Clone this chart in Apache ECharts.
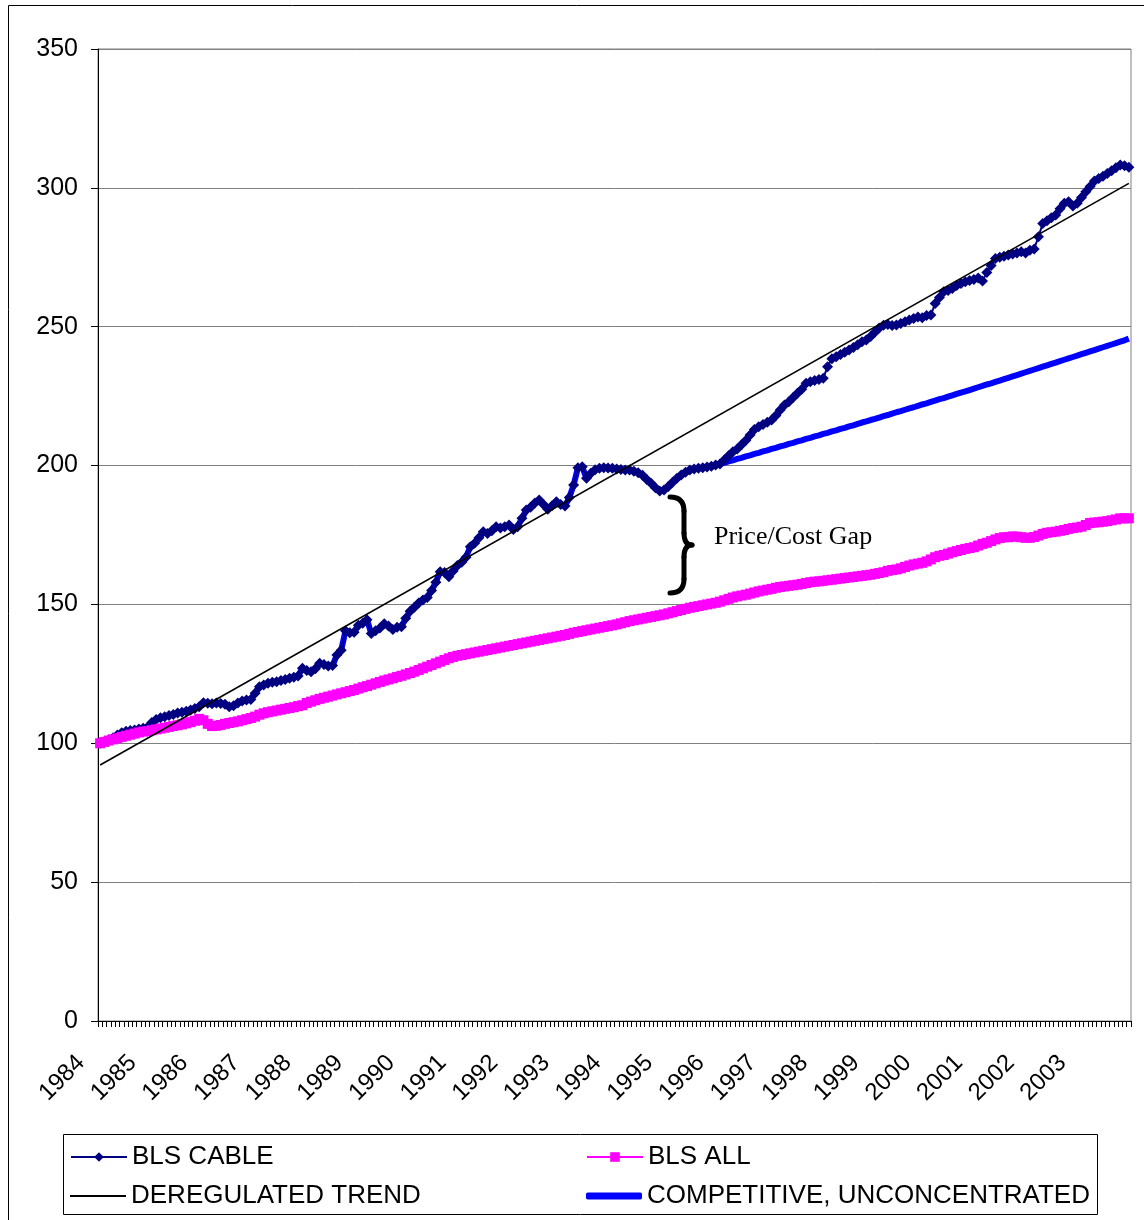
<!DOCTYPE html>
<html>
<head>
<meta charset="utf-8">
<script src="https://cdn.jsdelivr.net/npm/echarts@6/dist/echarts.min.js"></script>
<style>
  html, body { margin: 0; padding: 0; background: #fff; }
  #chart { width: 1144px; height: 1220px; }
</style>
</head>
<body>
<div id="chart"></div>
<script>
// tick labels: one per year, 12 monthly categories each
var years = [1984, 1985, 1986, 1987, 1988, 1989, 1990, 1991, 1992, 1993,
  1994, 1995, 1996, 1997, 1998, 1999, 2000, 2001, 2002, 2003]

// BLS CABLE, monthly
var blsCable = [
  100, 100.6, 101.3, 102, 103, 103.8, 104.3, 104.6, 104.8, 105.1, 105.4, 105.8,
  107.5, 108.6, 109.2, 109.6, 110, 110.4, 110.9, 111.2, 111.5, 112, 112.5, 113.2,
  114.6, 114.4, 114.2, 114.5, 114.3, 114.1, 113.2, 113.5, 114.5, 115.2, 115.6, 115.8,
  118, 120.4, 121, 121.6, 122, 122.2, 122.6, 123, 123.4, 123.8, 124.2, 127,
  126.2, 125.8, 126.8, 128.8, 128.4, 127.8, 128, 131.8, 133.5, 140.5, 139.8, 140,
  142.5, 143.2, 144.5, 139.5, 140.5, 141.5, 143, 142.2, 141, 141.8, 142, 145,
  147.5, 149, 150.5, 151.6, 152.5, 155, 158, 161.8, 161.5, 160, 162, 164,
  165.2, 167, 170.8, 172, 174, 176.2, 175.5, 176.5, 178, 177.5, 178, 178.6,
  177, 178, 181, 184, 185, 186.5, 187.6, 186, 184.3, 185.5, 187, 186,
  185.4, 188.5, 193, 199.2, 199.6, 195.4, 197.2, 198.5, 199, 199.2, 199.1, 199,
  198.8, 198.6, 198.4, 198.4, 198, 197.4, 196.5, 195, 193.6, 192, 190.8, 191.2,
  192.5, 194, 195.4, 196.6, 197.6, 198.4, 198.8, 199, 199.2, 199.5, 199.8, 200.2,
  200.6, 202, 203.5, 205, 206, 207.5, 209, 211, 213, 214, 214.8, 215.6,
  216.4, 218, 220, 221.8, 223, 224.5, 226, 227.5, 229.6, 230.2, 230.6, 231,
  231.4, 235.6, 238.5, 239.2, 240, 240.8, 241.6, 242.5, 243.5, 244.6, 245.2, 246.5,
  248, 249.5, 250.5, 250.8, 250.4, 250.6, 251.2, 251.8, 252.4, 253, 253.5, 253.2,
  254, 254.2, 258.4, 260.5, 262.6, 263, 263.8, 264.8, 265.6, 266.2, 266.6, 267,
  267.5, 266.5, 269.5, 272, 274.6, 275, 275.4, 275.8, 276.2, 276.5, 277, 276.5,
  277.5, 278, 282.4, 287.2, 288.2, 289.2, 290.2, 292.5, 294.5, 295, 293.5, 294.5,
  296.5, 298.6, 300.5, 302.5, 303.4, 304.2, 305.2, 306.2, 307.2, 308.2, 308, 307.4
]

// BLS ALL, monthly
var blsAll = [
  100, 100.5, 101, 101.4, 101.8, 102.3, 102.7, 103.1, 103.5, 103.9, 104.2, 104.4,
  104.7, 105, 105.3, 105.6, 105.9, 106.2, 106.5, 106.8, 107.2, 107.6, 108.1, 108.8,
  108.3, 107, 106.2, 106.3, 106.6, 107, 107.3, 107.6, 107.9, 108.3, 108.7, 109.1,
  109.6, 110.3, 110.8, 111.2, 111.5, 111.8, 112.1, 112.4, 112.7, 113, 113.4, 113.7,
  114.5, 115, 115.5, 116, 116.4, 116.8, 117.2, 117.6, 118, 118.4, 118.8, 119.2,
  119.7, 120.2, 120.6, 121.1, 121.6, 122.1, 122.6, 123, 123.4, 123.9, 124.3, 124.8,
  125.3, 125.8, 126.4, 127, 127.6, 128.2, 128.8, 129.4, 130, 130.6, 131.1, 131.5,
  131.8, 132.1, 132.4, 132.7, 133, 133.3, 133.6, 133.9, 134.2, 134.5, 134.8, 135.1,
  135.4, 135.7, 136, 136.3, 136.6, 136.9, 137.2, 137.5, 137.8, 138.1, 138.4, 138.7,
  139, 139.4, 139.8, 140.1, 140.4, 140.7, 141, 141.3, 141.6, 141.9, 142.2, 142.5,
  142.8, 143.2, 143.6, 144, 144.3, 144.6, 144.9, 145.2, 145.5, 145.8, 146.1, 146.4,
  146.8, 147.2, 147.6, 148, 148.4, 148.8, 149.1, 149.4, 149.7, 150, 150.3, 150.6,
  151, 151.5, 152, 152.5, 152.9, 153.2, 153.5, 153.9, 154.3, 154.7, 155, 155.3,
  155.6, 156, 156.3, 156.5, 156.7, 156.9, 157.1, 157.4, 157.7, 158, 158.2, 158.3,
  158.5, 158.7, 158.9, 159.1, 159.3, 159.5, 159.7, 159.9, 160.1, 160.3, 160.5, 160.7,
  161, 161.3, 161.6, 162.1, 162.4, 162.6, 163, 163.5, 164, 164.4, 164.7, 165,
  165.5, 166.2, 167, 167.5, 167.8, 168.3, 168.8, 169.2, 169.6, 170, 170.3, 170.6,
  171.2, 171.8, 172.2, 172.8, 173.4, 173.9, 174.2, 174.2, 174.5, 174.4, 174.2, 174,
  174, 174.3, 174.8, 175.4, 175.8, 176, 176.2, 176.5, 176.8, 177.2, 177.5, 177.7,
  178, 178.6, 179.3, 179.5, 179.6, 179.8, 180, 180.3, 180.6, 181, 181, 181
]

// COMPETITIVE, UNCONCENTRATED follows cable until early 1996, then its own path
var splitIndex = 145
var competitiveAfter = [
  201.0, 201.5, 201.9, 202.4, 202.8, 203.3, 203.7, 204.2, 204.6, 205.1, 205.5,
  206.0, 206.4, 206.9, 207.3, 207.8, 208.2, 208.7, 209.1, 209.6, 210.0, 210.5, 210.9,
  211.4, 211.8, 212.3, 212.7, 213.2, 213.6, 214.1, 214.5, 215.0, 215.5, 215.9, 216.4,
  216.8, 217.3, 217.8, 218.2, 218.7, 219.2, 219.6, 220.1, 220.6, 221.0, 221.5, 222.0,
  222.4, 222.9, 223.4, 223.9, 224.3, 224.8, 225.3, 225.8, 226.3, 226.7, 227.2, 227.7,
  228.2, 228.7, 229.2, 229.6, 230.1, 230.6, 231.1, 231.6, 232.1, 232.6, 233.1, 233.6,
  234.1, 234.6, 235.1, 235.6, 236.1, 236.6, 237.1, 237.6, 238.1, 238.6, 239.1, 239.6,
  240.1, 240.6, 241.1, 241.6, 242.1, 242.6, 243.1, 243.6, 244.1, 244.6, 245.1, 245.7
]

// DEREGULATED TREND: straight line, first and last month
var trendEnds = [92.2, 301.6]

var months = []
years.forEach(function (y) {
  for (var m = 1; m <= 12; m++) months.push(y + '-' + m)
})
var competitive = blsCable.slice(0, splitIndex).concat(competitiveAfter)
var trend = months.map(function () { return null })
trend[0] = trendEnds[0]
trend[trend.length - 1] = trendEnds[1]

var FONT = '"Liberation Sans", Arial, sans-serif'
var legendText = { fontSize: 26, color: '#000', fontFamily: FONT }
var braceStyle = { stroke: '#000', lineWidth: 5, fill: null, lineCap: 'round' }

function brace (x1, y1, cx, cy, x2, y2) {
  return {
    type: 'bezierCurve', silent: true,
    shape: { x1: x1, y1: y1, cpx1: cx, cpy1: cy, x2: x2, y2: y2 },
    style: braceStyle
  }
}
function braceLine (x1, y1, x2, y2) {
  return {
    type: 'line', silent: true,
    shape: { x1: x1, y1: y1, x2: x2, y2: y2 },
    style: braceStyle
  }
}
function legendAt (name, left, top, extra) {
  var l = { data: [name], left: left, top: top, itemWidth: 56, itemHeight: 12, padding: 0, textStyle: legendText }
  return Object.assign(l, extra || {})
}

var myChart = echarts.init(document.getElementById('chart'), null, { renderer: 'canvas' })
var option = {
  animation: false,
  backgroundColor: '#fff',
  grid: {
    left: 98, right: 13, top: 49, bottom: 199,
    show: true, borderColor: '#808080', borderWidth: 1
  },
  xAxis: {
    type: 'category',
    data: months,
    boundaryGap: true,
    axisLine: { lineStyle: { color: '#000', width: 1 } },
    axisTick: { show: true, interval: 0, length: 6, lineStyle: { color: '#000' } },
    axisLabel: {
      interval: 11,
      rotate: 45,
      margin: 19,
      padding: [0, 27, 0, 0],
      fontSize: 24,
      color: '#000',
      fontFamily: FONT,
      formatter: function (v) { return v.split('-')[0] }
    },
    splitLine: { show: false }
  },
  yAxis: {
    type: 'value',
    min: 0, max: 350, interval: 50,
    axisLine: { show: true, lineStyle: { color: '#000', width: 1 } },
    axisTick: { show: true, length: 7, lineStyle: { color: '#000' } },
    axisLabel: { margin: 20, fontSize: 25, color: '#000', fontFamily: FONT },
    splitLine: { show: true, lineStyle: { color: '#808080', width: 1 } }
  },
  legend: [
    legendAt('BLS CABLE', 70, 1144),
    legendAt('BLS ALL', 586, 1144),
    legendAt('DEREGULATED TREND', 70, 1183, { icon: 'rect', itemHeight: 2 }),
    legendAt('COMPETITIVE, UNCONCENTRATED', 586, 1183, { icon: 'roundRect', itemHeight: 7 })
  ],
  series: [
    {
      name: 'COMPETITIVE, UNCONCENTRATED',
      type: 'line',
      data: competitive,
      symbol: 'none',
      z: 2,
      lineStyle: { color: '#0000ff', width: 6 },
      itemStyle: { color: '#0000ff' }
    },
    {
      name: 'BLS CABLE',
      type: 'line',
      data: blsCable,
      symbol: 'diamond',
      symbolSize: 11,
      showAllSymbol: true,
      z: 3,
      lineStyle: { color: '#000080', width: 2 },
      itemStyle: { color: '#000080' }
    },
    {
      name: 'BLS ALL',
      type: 'line',
      data: blsAll,
      symbol: 'rect',
      symbolSize: 10,
      showAllSymbol: true,
      z: 3,
      lineStyle: { color: '#ff00ff', width: 2 },
      itemStyle: { color: '#ff00ff' }
    },
    {
      name: 'DEREGULATED TREND',
      type: 'line',
      data: trend,
      connectNulls: true,
      symbol: 'none',
      z: 4,
      lineStyle: { color: '#000', width: 1.6 },
      itemStyle: { color: '#000' }
    }
  ],
  graphic: [
    {
      type: 'rect', silent: true,
      shape: { x: 8.5, y: 5.5, width: 1300, height: 1400 },
      style: { fill: null, stroke: '#000', lineWidth: 1 }
    },
    {
      type: 'rect', silent: true,
      shape: { x: 63.5, y: 1134.5, width: 1034, height: 80 },
      style: { fill: null, stroke: '#000', lineWidth: 1 }
    },
    brace(670, 497, 684, 497, 684, 511),
    braceLine(684, 511, 684, 533),
    brace(684, 533, 684, 545, 692, 545),
    brace(692, 545, 684, 545, 684, 557),
    braceLine(684, 557, 684, 579),
    brace(684, 579, 684, 593, 670, 593),
    {
      type: 'text', silent: true,
      style: {
        text: 'Price/Cost Gap', x: 714, y: 537,
        verticalAlign: 'middle',
        font: '26px "Liberation Serif", "Times New Roman", serif',
        fill: '#000'
      }
    }
  ]
}
myChart.setOption(option)
</script>
</body>
</html>
